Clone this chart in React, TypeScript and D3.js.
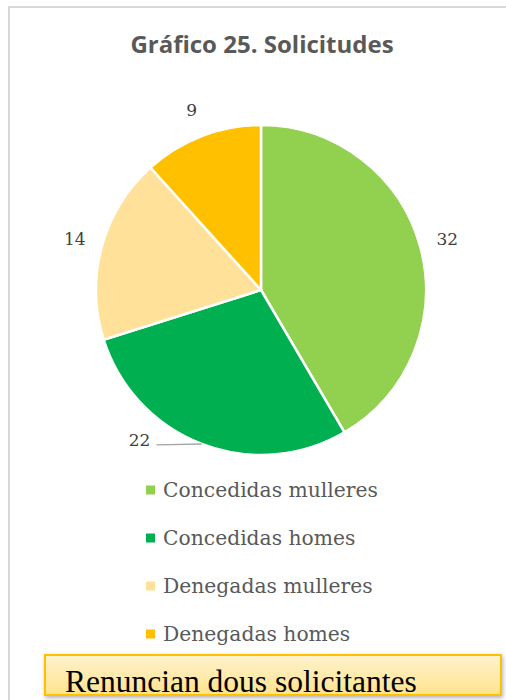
import React from "react";
import * as d3 from "d3";

const categories = ["Concedidas mulleres", "Concedidas homes", "Denegadas mulleres", "Denegadas homes"];
const values = [32, 22, 14, 9];
const colors = ["#92d050", "#00b050", "#ffe199", "#ffc000"];
const labelShiftDeg = [0, 18, 0, 0];
const title = "Gráfico 25. Solicitudes";
const note = "Renuncian dous solicitantes";

const W = 506;
const H = 700;
const cx = 261;
const cy = 290;
const R = 165;

export default function App() {
  const pie = d3.pie<number>().sort(null).value((d) => d)(values);
  const arc = d3.arc<d3.PieArcDatum<number>>().innerRadius(0).outerRadius(R);
  const labelR = 193;
  const serif = "'DejaVu Serif', 'Liberation Serif', serif";
  const times = "'Liberation Serif', serif";
  const sans = "'Open Sans', 'Liberation Sans', sans-serif";
  const legendY = d3.scalePoint<string>().domain(categories).range([490, 634]);

  return (
    <svg
      width={W}
      height={H}
      style={{ position: "absolute", left: 0, top: 0, background: "#fff" }}
    >
      <defs>
        <linearGradient id="boxg" x1="0" y1="0" x2="0" y2="1">
          <stop offset="0" stopColor="#fff3cf" />
          <stop offset="1" stopColor="#ffe38c" />
        </linearGradient>
        <filter id="sh" x="-5%" y="-30%" width="110%" height="160%">
          <feDropShadow dx="1" dy="2" stdDeviation="2" floodColor="#000" floodOpacity="0.3" />
        </filter>
      </defs>
      <rect x={0} y={0} width={W} height={H} fill="#fff" />
      <line x1={9} y1={6} x2={9} y2={H} stroke="#d9d9d9" strokeWidth={2} />
      <line x1={8} y1={7} x2={W} y2={7} stroke="#d9d9d9" strokeWidth={2} />
      <text
        x={262}
        y={53}
        textAnchor="middle"
        fontFamily={sans}
        fontWeight="bold"
        fontSize={24}
        fill="#595959"
      >
        {title}
      </text>
      <g transform={`translate(${cx},${cy})`}>
        {pie.map((d, i) => (
          <path key={i} d={arc(d) || ""} fill={colors[i]} stroke="#fff" strokeWidth={2.5} />
        ))}
        {pie.map((d, i) => {
          const mid = (d.startAngle + d.endAngle) / 2;
          const a = mid + (labelShiftDeg[i] * Math.PI) / 180;
          const lx = labelR * Math.sin(a);
          const ly = -labelR * Math.cos(a);
          const shifted = labelShiftDeg[i] !== 0;
          return (
            <g key={"l" + i}>
              {shifted && (
                <path
                  d={`M${R * Math.sin(mid)},${-R * Math.cos(mid)} L${lx + 17},${ly + 5}`}
                  stroke="#a6a6a6"
                  strokeWidth={1.3}
                  fill="none"
                />
              )}
              <text
                x={lx}
                y={ly}
                textAnchor="middle"
                dominantBaseline="central"
                fontFamily={serif}
                fontSize={17}
                fill="#404040"
              >
                {values[i]}
              </text>
            </g>
          );
        })}
      </g>
      {categories.map((c, i) => (
        <g key={"lg" + i} transform={`translate(146,${legendY(c)})`}>
          <rect x={0} y={-4.5} width={9} height={9} fill={colors[i]} />
          <text
            x={17}
            y={0}
            dominantBaseline="central"
            fontFamily={serif}
            fontSize={20.3}
            fill="#595959"
          >
            {c}
          </text>
        </g>
      ))}
      <rect
        x={45}
        y={655}
        width={456}
        height={40}
        fill="url(#boxg)"
        stroke="#ffc000"
        strokeWidth={2}
        filter="url(#sh)"
      />
      <text x={65} y={692} fontFamily={times} fontSize={31.5} fill="#000">
        {note}
      </text>
    </svg>
  );
}
